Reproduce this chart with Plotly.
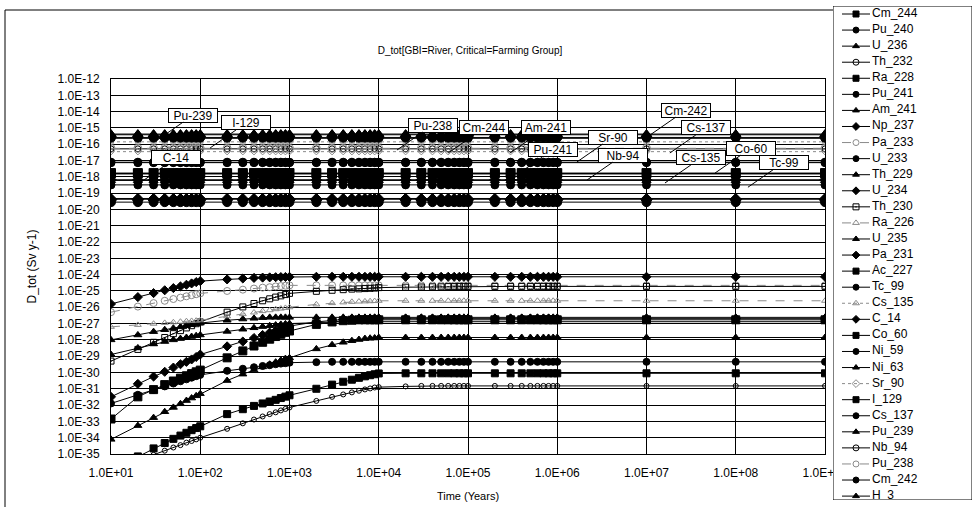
import math
import plotly.graph_objects as go

# ---------------- data ----------------
TIME = [
    1e1, 2e1, 3e1, 4e1, 5e1, 6e1, 7e1, 8e1, 9e1,
    1e2, 2e2, 3e2, 4e2, 5e2, 6e2, 7e2, 8e2, 9e2,
    1e3, 2e3, 3e3, 4e3, 5e3, 6e3, 7e3, 8e3, 9e3,
    1e4, 2e4, 3e4, 4e4, 5e4, 6e4, 7e4, 8e4, 9e4,
    1e5, 2e5, 3e5, 4e5, 5e5, 6e5, 7e5, 8e5, 9e5,
    1e6, 1e7, 1e8, 1e9,
]

CM_244 = [1.6e-18, 1.6e-18, 1.6e-18, 1.6e-18, 1.6e-18, 1.6e-18, 1.6e-18, 1.6e-18, 1.6e-18,
          1.6e-18, 1.6e-18, 1.6e-18, 1.6e-18, 1.6e-18, 1.6e-18, 1.6e-18, 1.6e-18, 1.6e-18,
          1.6e-18, 1.6e-18, 1.6e-18, 1.6e-18, 1.6e-18, 1.6e-18, 1.6e-18, 1.6e-18, 1.6e-18,
          1.6e-18, 1.6e-18, 1.6e-18, 1.6e-18, 1.6e-18, 1.6e-18, 1.6e-18, 1.6e-18, 1.6e-18,
          1.6e-18, 1.6e-18, 1.6e-18, 1.6e-18, 1.6e-18, 1.6e-18, 1.6e-18, 1.6e-18, 1.6e-18,
          1.6e-18, 1.6e-18, 1.6e-18, 1.6e-18]
PU_240 = [2.3e-16, 2.3e-16, 2.3e-16, 2.3e-16, 2.3e-16, 2.3e-16, 2.3e-16, 2.3e-16, 2.3e-16,
          2.3e-16, 2.3e-16, 2.3e-16, 2.3e-16, 2.3e-16, 2.3e-16, 2.3e-16, 2.3e-16, 2.3e-16,
          2.3e-16, 2.3e-16, 2.3e-16, 2.3e-16, 2.3e-16, 2.3e-16, 2.3e-16, 2.3e-16, 2.3e-16,
          2.3e-16, 2.3e-16, 2.3e-16, 2.3e-16, 2.3e-16, 2.3e-16, 2.3e-16, 2.3e-16, 2.3e-16,
          2.3e-16, 2.3e-16, 2.3e-16, 2.3e-16, 2.3e-16, 2.3e-16, 2.3e-16, 2.3e-16, 2.3e-16,
          2.3e-16, 2.3e-16, 2.3e-16, 2.3e-16]
U_236 = [1.0e-28, 2.0e-28, 3.2e-28, 4.2e-28, 5.2e-28, 6.3e-28, 7.4e-28, 8.5e-28, 9.5e-28,
         1.07e-27, 1.6e-27, 1.9e-27, 2.1e-27, 2.3e-27, 2.4e-27, 2.4e-27, 2.4e-27, 2.4e-27,
         2.4e-27, 2.4e-27, 2.4e-27, 2.4e-27, 2.4e-27, 2.4e-27, 2.4e-27, 2.4e-27, 2.4e-27,
         2.4e-27, 2.4e-27, 2.4e-27, 2.4e-27, 2.4e-27, 2.4e-27, 2.4e-27, 2.4e-27, 2.4e-27,
         2.4e-27, 2.4e-27, 2.4e-27, 2.4e-27, 2.4e-27, 2.4e-27, 2.4e-27, 2.4e-27, 2.4e-27,
         2.4e-27, 2.4e-27, 2.4e-27, 2.4e-27]
TH_232 = [1.0e-36, 4.0e-36, 8.9e-36, 1.6e-35, 2.5e-35, 3.5e-35, 5.0e-35, 6.3e-35, 7.9e-35,
          1.0e-34, 3.5e-34, 7.6e-34, 1.3e-33, 2.0e-33, 2.8e-33, 3.6e-33, 4.7e-33, 5.8e-33,
          7.1e-33, 1.8e-32, 3.2e-32, 4.5e-32, 6.0e-32, 7.6e-32, 9.1e-32, 1.05e-31, 1.2e-31,
          1.26e-31, 1.4e-31, 1.5e-31, 1.5e-31, 1.5e-31, 1.5e-31, 1.5e-31, 1.5e-31, 1.5e-31,
          1.5e-31, 1.5e-31, 1.5e-31, 1.5e-31, 1.5e-31, 1.5e-31, 1.5e-31, 1.5e-31, 1.5e-31,
          1.5e-31, 1.5e-31, 1.5e-31, 1.5e-31]
RA_228 = [1.0e-36, 7.1e-36, 2.2e-35, 4.7e-35, 8.5e-35, 1.35e-34, 2.0e-34, 2.9e-34, 3.9e-34,
          5.0e-34, 2.8e-33, 5.6e-33, 8.9e-33, 1.26e-32, 1.66e-32, 2.1e-32, 2.7e-32, 3.3e-32,
          4.0e-32, 1.0e-31, 1.8e-31, 2.7e-31, 3.6e-31, 4.7e-31, 5.8e-31, 6.8e-31, 7.8e-31,
          8.7e-31, 8.9e-31, 8.9e-31, 8.9e-31, 8.9e-31, 8.9e-31, 8.9e-31, 8.9e-31, 8.9e-31,
          8.9e-31, 8.9e-31, 8.9e-31, 8.9e-31, 8.9e-31, 8.9e-31, 8.9e-31, 8.9e-31, 8.9e-31,
          8.9e-31, 8.9e-31, 8.9e-31, 8.9e-31]
PU_241 = [7.9e-18, 7.9e-18, 7.9e-18, 7.9e-18, 7.9e-18, 7.9e-18, 7.9e-18, 7.9e-18, 7.9e-18,
          7.9e-18, 7.9e-18, 7.9e-18, 7.9e-18, 7.9e-18, 7.9e-18, 7.9e-18, 7.9e-18, 7.9e-18,
          7.9e-18, 7.9e-18, 7.9e-18, 7.9e-18, 7.9e-18, 7.9e-18, 7.9e-18, 7.9e-18, 7.9e-18,
          7.9e-18, 7.9e-18, 7.9e-18, 7.9e-18, 7.9e-18, 7.9e-18, 7.9e-18, 7.9e-18, 7.9e-18,
          7.9e-18, 7.9e-18, 7.9e-18, 7.9e-18, 7.9e-18, 7.9e-18, 7.9e-18, 7.9e-18, 7.9e-18,
          7.9e-18, 7.9e-18, 7.9e-18, 7.9e-18]
AM_241 = [4.7e-20, 4.7e-20, 4.7e-20, 4.7e-20, 4.7e-20, 4.7e-20, 4.7e-20, 4.7e-20, 4.7e-20,
          4.7e-20, 4.7e-20, 4.7e-20, 4.7e-20, 4.7e-20, 4.7e-20, 4.7e-20, 4.7e-20, 4.7e-20,
          4.7e-20, 4.7e-20, 4.7e-20, 4.7e-20, 4.7e-20, 4.7e-20, 4.7e-20, 4.7e-20, 4.7e-20,
          4.7e-20, 4.7e-20, 4.7e-20, 4.7e-20, 4.7e-20, 4.7e-20, 4.7e-20, 4.7e-20, 4.7e-20,
          4.7e-20, 4.7e-20, 4.7e-20, 4.7e-20, 4.7e-20, 4.7e-20, 4.7e-20, 4.7e-20, 4.7e-20,
          4.7e-20, 4.7e-20, 4.7e-20, 4.7e-20]
NP_237 = [4.2e-20, 4.2e-20, 4.2e-20, 4.2e-20, 4.2e-20, 4.2e-20, 4.2e-20, 4.2e-20, 4.2e-20,
          4.2e-20, 4.2e-20, 4.2e-20, 4.2e-20, 4.2e-20, 4.2e-20, 4.2e-20, 4.2e-20, 4.2e-20,
          4.2e-20, 4.2e-20, 4.2e-20, 4.2e-20, 4.2e-20, 4.2e-20, 4.2e-20, 4.2e-20, 4.2e-20,
          4.2e-20, 4.2e-20, 4.2e-20, 4.2e-20, 4.2e-20, 4.2e-20, 4.2e-20, 4.2e-20, 4.2e-20,
          4.2e-20, 4.2e-20, 4.2e-20, 4.2e-20, 4.2e-20, 4.2e-20, 4.2e-20, 4.2e-20, 4.2e-20,
          4.2e-20, 4.2e-20, 4.2e-20, 4.2e-20]
PA_233 = [5.0e-27, 1.1e-26, 1.8e-26, 2.5e-26, 3.2e-26, 3.9e-26, 4.7e-26, 5.5e-26, 6.3e-26,
          7.1e-26, 1.0e-25, 1.2e-25, 1.4e-25, 1.6e-25, 1.7e-25, 1.9e-25, 2.0e-25, 2.1e-25,
          2.2e-25, 2.2e-25, 2.2e-25, 2.2e-25, 2.2e-25, 2.2e-25, 2.2e-25, 2.2e-25, 2.2e-25,
          2.2e-25, 2.2e-25, 2.2e-25, 2.2e-25, 2.2e-25, 2.2e-25, 2.2e-25, 2.2e-25, 2.2e-25,
          2.2e-25, 2.2e-25, 2.2e-25, 2.2e-25, 2.2e-25, 2.2e-25, 2.2e-25, 2.2e-25, 2.2e-25,
          2.2e-25, 2.2e-25, 2.2e-25, 2.2e-25]
U_233 = [1.26e-32, 4.3e-32, 8.5e-32, 1.4e-31, 2.1e-31, 2.9e-31, 3.8e-31, 4.8e-31, 5.9e-31,
         7.1e-31, 1.26e-30, 1.7e-30, 2.1e-30, 2.5e-30, 2.8e-30, 3.2e-30, 3.5e-30, 3.7e-30,
         4.0e-30, 4.3e-30, 4.5e-30, 4.5e-30, 4.5e-30, 4.5e-30, 4.5e-30, 4.5e-30, 4.5e-30,
         4.5e-30, 4.5e-30, 4.5e-30, 4.5e-30, 4.5e-30, 4.5e-30, 4.5e-30, 4.5e-30, 4.5e-30,
         4.5e-30, 4.5e-30, 4.5e-30, 4.5e-30, 4.5e-30, 4.5e-30, 4.5e-30, 4.5e-30, 4.5e-30,
         4.5e-30, 4.5e-30, 4.5e-30, 4.5e-30]
TH_229 = [7.9e-35, 5.5e-34, 1.7e-33, 3.9e-33, 7.2e-33, 1.2e-32, 1.9e-32, 2.7e-32, 3.7e-32,
          5.0e-32, 3.2e-31, 7.9e-31, 1.4e-30, 2.2e-30, 3.2e-30, 4.3e-30, 5.6e-30, 7.1e-30,
          7.9e-30, 2.8e-29, 5.0e-29, 7.1e-29, 8.9e-29, 1.05e-28, 1.2e-28, 1.26e-28, 1.3e-28,
          1.4e-28, 1.4e-28, 1.4e-28, 1.4e-28, 1.4e-28, 1.4e-28, 1.4e-28, 1.4e-28, 1.4e-28,
          1.4e-28, 1.4e-28, 1.4e-28, 1.4e-28, 1.4e-28, 1.4e-28, 1.4e-28, 1.4e-28, 1.4e-28,
          1.4e-28, 1.4e-28, 1.4e-28, 1.4e-28]
U_234 = [3.2e-32, 2.0e-31, 5.6e-31, 1.1e-30, 2.0e-30, 3.2e-30, 4.5e-30, 6.3e-30, 8.9e-30,
         1.26e-29, 4.0e-29, 7.9e-29, 1.3e-28, 2.0e-28, 2.8e-28, 3.6e-28, 4.7e-28, 5.9e-28,
         7.1e-28, 1.26e-27, 1.6e-27, 1.8e-27, 1.9e-27, 2.0e-27, 2.0e-27, 2.0e-27, 2.0e-27,
         2.0e-27, 2.0e-27, 2.0e-27, 2.0e-27, 2.0e-27, 2.0e-27, 2.0e-27, 2.0e-27, 2.0e-27,
         2.0e-27, 2.0e-27, 2.0e-27, 2.0e-27, 2.0e-27, 2.0e-27, 2.0e-27, 2.0e-27, 2.0e-27,
         2.0e-27, 2.0e-27, 2.0e-27, 2.0e-27]
TH_230 = [5.0e-30, 2.6e-29, 7.1e-29, 1.4e-28, 2.4e-28, 3.7e-28, 5.4e-28, 7.4e-28, 9.8e-28,
          1.26e-27, 5.0e-27, 1.05e-26, 1.7e-26, 2.5e-26, 3.3e-26, 4.2e-26, 5.0e-26, 6.0e-26,
          7.1e-26, 9.5e-26, 1.1e-25, 1.2e-25, 1.3e-25, 1.35e-25, 1.4e-25, 1.45e-25, 1.5e-25,
          1.6e-25, 1.7e-25, 1.75e-25, 1.8e-25, 1.8e-25, 1.85e-25, 1.85e-25, 1.9e-25, 1.9e-25,
          1.9e-25, 1.9e-25, 1.9e-25, 1.9e-25, 1.9e-25, 1.9e-25, 1.9e-25, 1.9e-25, 1.9e-25,
          1.9e-25, 1.9e-25, 1.9e-25, 1.9e-25]
RA_226 = [6.3e-28, 8.3e-28, 9.8e-28, 1.1e-27, 1.2e-27, 1.3e-27, 1.4e-27, 1.45e-27, 1.5e-27,
          1.6e-27, 2.8e-27, 3.8e-27, 4.8e-27, 5.8e-27, 6.6e-27, 7.6e-27, 8.3e-27, 9.1e-27,
          1.0e-26, 1.5e-26, 1.8e-26, 2.0e-26, 2.15e-26, 2.25e-26, 2.3e-26, 2.35e-26, 2.4e-26,
          2.5e-26, 2.5e-26, 2.5e-26, 2.5e-26, 2.5e-26, 2.5e-26, 2.5e-26, 2.5e-26, 2.5e-26,
          2.5e-26, 2.5e-26, 2.5e-26, 2.5e-26, 2.5e-26, 2.5e-26, 2.5e-26, 2.5e-26, 2.5e-26,
          2.5e-26, 2.5e-26, 2.5e-26, 2.5e-26]
U_235 = [1.26e-29, 3.2e-29, 5.6e-29, 7.9e-29, 1.0e-28, 1.2e-28, 1.4e-28, 1.6e-28, 1.8e-28,
         2.0e-28, 3.3e-28, 4.5e-28, 5.5e-28, 6.5e-28, 7.4e-28, 8.1e-28, 8.9e-28, 9.5e-28,
         1.0e-27, 1.2e-27, 1.26e-27, 1.3e-27, 1.3e-27, 1.3e-27, 1.3e-27, 1.3e-27, 1.3e-27,
         1.3e-27, 1.3e-27, 1.3e-27, 1.3e-27, 1.3e-27, 1.3e-27, 1.3e-27, 1.3e-27, 1.3e-27,
         1.3e-27, 1.3e-27, 1.3e-27, 1.3e-27, 1.3e-27, 1.3e-27, 1.3e-27, 1.3e-27, 1.3e-27,
         1.3e-27, 1.3e-27, 1.3e-27, 1.3e-27]
PA_231 = [1.6e-26, 4.2e-26, 7.4e-26, 1.1e-25, 1.5e-25, 1.9e-25, 2.4e-25, 2.9e-25, 3.5e-25,
          4.0e-25, 5.1e-25, 5.8e-25, 6.3e-25, 6.6e-25, 6.8e-25, 7.0e-25, 7.1e-25, 7.2e-25,
          7.3e-25, 7.4e-25, 7.4e-25, 7.4e-25, 7.4e-25, 7.4e-25, 7.4e-25, 7.4e-25, 7.4e-25,
          7.4e-25, 7.4e-25, 7.4e-25, 7.4e-25, 7.4e-25, 7.4e-25, 7.4e-25, 7.4e-25, 7.4e-25,
          7.4e-25, 7.4e-25, 7.4e-25, 7.4e-25, 7.4e-25, 7.4e-25, 7.4e-25, 7.4e-25, 7.4e-25,
          7.4e-25, 7.4e-25, 7.4e-25, 7.4e-25]
AC_227 = [1.4e-33, 3.2e-32, 8.9e-32, 1.8e-31, 3.0e-31, 4.5e-31, 6.3e-31, 8.5e-31, 1.1e-30,
          1.4e-30, 7.9e-30, 2.1e-29, 4.2e-29, 7.1e-29, 1.1e-28, 1.6e-28, 2.2e-28, 2.9e-28,
          3.5e-28, 8.9e-28, 1.26e-27, 1.5e-27, 1.6e-27, 1.7e-27, 1.7e-27, 1.7e-27, 1.7e-27,
          1.7e-27, 1.7e-27, 1.7e-27, 1.7e-27, 1.7e-27, 1.7e-27, 1.7e-27, 1.7e-27, 1.7e-27,
          1.7e-27, 1.7e-27, 1.7e-27, 1.7e-27, 1.7e-27, 1.7e-27, 1.7e-27, 1.7e-27, 1.7e-27,
          1.7e-27, 1.7e-27, 1.7e-27, 1.7e-27]
TC_99 = [3.2e-19, 3.2e-19, 3.2e-19, 3.2e-19, 3.2e-19, 3.2e-19, 3.2e-19, 3.2e-19, 3.2e-19,
         3.2e-19, 3.2e-19, 3.2e-19, 3.2e-19, 3.2e-19, 3.2e-19, 3.2e-19, 3.2e-19, 3.2e-19,
         3.2e-19, 3.2e-19, 3.2e-19, 3.2e-19, 3.2e-19, 3.2e-19, 3.2e-19, 3.2e-19, 3.2e-19,
         3.2e-19, 3.2e-19, 3.2e-19, 3.2e-19, 3.2e-19, 3.2e-19, 3.2e-19, 3.2e-19, 3.2e-19,
         3.2e-19, 3.2e-19, 3.2e-19, 3.2e-19, 3.2e-19, 3.2e-19, 3.2e-19, 3.2e-19, 3.2e-19,
         3.2e-19, 3.2e-19, 3.2e-19, 3.2e-19]
CS_135 = [1.4e-16, 1.4e-16, 1.4e-16, 1.4e-16, 1.4e-16, 1.4e-16, 1.4e-16, 1.4e-16, 1.4e-16,
          1.4e-16, 1.4e-16, 1.4e-16, 1.4e-16, 1.4e-16, 1.4e-16, 1.4e-16, 1.4e-16, 1.4e-16,
          1.4e-16, 1.4e-16, 1.4e-16, 1.4e-16, 1.4e-16, 1.4e-16, 1.4e-16, 1.4e-16, 1.4e-16,
          1.4e-16, 1.4e-16, 1.4e-16, 1.4e-16, 1.4e-16, 1.4e-16, 1.4e-16, 1.4e-16, 1.4e-16,
          1.4e-16, 1.4e-16, 1.4e-16, 1.4e-16, 1.4e-16, 1.4e-16, 1.4e-16, 1.4e-16, 1.4e-16,
          1.4e-16, 1.4e-16, 1.4e-16, 1.4e-16]
C_14 = [6.6e-19, 6.6e-19, 6.6e-19, 6.6e-19, 6.6e-19, 6.6e-19, 6.6e-19, 6.6e-19, 6.6e-19,
        6.6e-19, 6.6e-19, 6.6e-19, 6.6e-19, 6.6e-19, 6.6e-19, 6.6e-19, 6.6e-19, 6.6e-19,
        6.6e-19, 6.6e-19, 6.6e-19, 6.6e-19, 6.6e-19, 6.6e-19, 6.6e-19, 6.6e-19, 6.6e-19,
        6.6e-19, 6.6e-19, 6.6e-19, 6.6e-19, 6.6e-19, 6.6e-19, 6.6e-19, 6.6e-19, 6.6e-19,
        6.6e-19, 6.6e-19, 6.6e-19, 6.6e-19, 6.6e-19, 6.6e-19, 6.6e-19, 6.6e-19, 6.6e-19,
        6.6e-19, 6.6e-19, 6.6e-19, 6.6e-19]
CO_60 = [1.7e-18, 1.7e-18, 1.7e-18, 1.7e-18, 1.7e-18, 1.7e-18, 1.7e-18, 1.7e-18, 1.7e-18,
         1.7e-18, 1.7e-18, 1.7e-18, 1.7e-18, 1.7e-18, 1.7e-18, 1.7e-18, 1.7e-18, 1.7e-18,
         1.7e-18, 1.7e-18, 1.7e-18, 1.7e-18, 1.7e-18, 1.7e-18, 1.7e-18, 1.7e-18, 1.7e-18,
         1.7e-18, 1.7e-18, 1.7e-18, 1.7e-18, 1.7e-18, 1.7e-18, 1.7e-18, 1.7e-18, 1.7e-18,
         1.7e-18, 1.7e-18, 1.7e-18, 1.7e-18, 1.7e-18, 1.7e-18, 1.7e-18, 1.7e-18, 1.7e-18,
         1.7e-18, 1.7e-18, 1.7e-18, 1.7e-18]
NI_59 = [2.8e-20, 2.8e-20, 2.8e-20, 2.8e-20, 2.8e-20, 2.8e-20, 2.8e-20, 2.8e-20, 2.8e-20,
         2.8e-20, 2.8e-20, 2.8e-20, 2.8e-20, 2.8e-20, 2.8e-20, 2.8e-20, 2.8e-20, 2.8e-20,
         2.8e-20, 2.8e-20, 2.8e-20, 2.8e-20, 2.8e-20, 2.8e-20, 2.8e-20, 2.8e-20, 2.8e-20,
         2.8e-20, 2.8e-20, 2.8e-20, 2.8e-20, 2.8e-20, 2.8e-20, 2.8e-20, 2.8e-20, 2.8e-20,
         2.8e-20, 2.8e-20, 2.8e-20, 2.8e-20, 2.8e-20, 2.8e-20, 2.8e-20, 2.8e-20, 2.8e-20,
         2.8e-20, 2.8e-20, 2.8e-20, 2.8e-20]
NI_63 = [6.0e-19, 6.0e-19, 6.0e-19, 6.0e-19, 6.0e-19, 6.0e-19, 6.0e-19, 6.0e-19, 6.0e-19,
         6.0e-19, 6.0e-19, 6.0e-19, 6.0e-19, 6.0e-19, 6.0e-19, 6.0e-19, 6.0e-19, 6.0e-19,
         6.0e-19, 6.0e-19, 6.0e-19, 6.0e-19, 6.0e-19, 6.0e-19, 6.0e-19, 6.0e-19, 6.0e-19,
         6.0e-19, 6.0e-19, 6.0e-19, 6.0e-19, 6.0e-19, 6.0e-19, 6.0e-19, 6.0e-19, 6.0e-19,
         6.0e-19, 6.0e-19, 6.0e-19, 6.0e-19, 6.0e-19, 6.0e-19, 6.0e-19, 6.0e-19, 6.0e-19,
         6.0e-19, 6.0e-19, 6.0e-19, 6.0e-19]
SR_90 = [3.5e-17, 3.5e-17, 3.5e-17, 3.5e-17, 3.5e-17, 3.5e-17, 3.5e-17, 3.5e-17, 3.5e-17,
         3.5e-17, 3.5e-17, 3.5e-17, 3.5e-17, 3.5e-17, 3.5e-17, 3.5e-17, 3.5e-17, 3.5e-17,
         3.5e-17, 3.5e-17, 3.5e-17, 3.5e-17, 3.5e-17, 3.5e-17, 3.5e-17, 3.5e-17, 3.5e-17,
         3.5e-17, 3.5e-17, 3.5e-17, 3.5e-17, 3.5e-17, 3.5e-17, 3.5e-17, 3.5e-17, 3.5e-17,
         3.5e-17, 3.5e-17, 3.5e-17, 3.5e-17, 3.5e-17, 3.5e-17, 3.5e-17, 3.5e-17, 3.5e-17,
         3.5e-17, 3.5e-17, 3.5e-17, 3.5e-17]
I_129 = [1.5e-18, 1.5e-18, 1.5e-18, 1.5e-18, 1.5e-18, 1.5e-18, 1.5e-18, 1.5e-18, 1.5e-18,
         1.5e-18, 1.5e-18, 1.5e-18, 1.5e-18, 1.5e-18, 1.5e-18, 1.5e-18, 1.5e-18, 1.5e-18,
         1.5e-18, 1.5e-18, 1.5e-18, 1.5e-18, 1.5e-18, 1.5e-18, 1.5e-18, 1.5e-18, 1.5e-18,
         1.5e-18, 1.5e-18, 1.5e-18, 1.5e-18, 1.5e-18, 1.5e-18, 1.5e-18, 1.5e-18, 1.5e-18,
         1.5e-18, 1.5e-18, 1.5e-18, 1.5e-18, 1.5e-18, 1.5e-18, 1.5e-18, 1.5e-18, 1.5e-18,
         1.5e-18, 1.5e-18, 1.5e-18, 1.5e-18]
CS_137 = [7.4e-18, 7.4e-18, 7.4e-18, 7.4e-18, 7.4e-18, 7.4e-18, 7.4e-18, 7.4e-18, 7.4e-18,
          7.4e-18, 7.4e-18, 7.4e-18, 7.4e-18, 7.4e-18, 7.4e-18, 7.4e-18, 7.4e-18, 7.4e-18,
          7.4e-18, 7.4e-18, 7.4e-18, 7.4e-18, 7.4e-18, 7.4e-18, 7.4e-18, 7.4e-18, 7.4e-18,
          7.4e-18, 7.4e-18, 7.4e-18, 7.4e-18, 7.4e-18, 7.4e-18, 7.4e-18, 7.4e-18, 7.4e-18,
          7.4e-18, 7.4e-18, 7.4e-18, 7.4e-18, 7.4e-18, 7.4e-18, 7.4e-18, 7.4e-18, 7.4e-18,
          7.4e-18, 7.4e-18, 7.4e-18, 7.4e-18]
PU_239 = [3.8e-16, 3.8e-16, 3.8e-16, 3.8e-16, 3.8e-16, 3.8e-16, 3.8e-16, 3.8e-16, 3.8e-16,
          3.8e-16, 3.8e-16, 3.8e-16, 3.8e-16, 3.8e-16, 3.8e-16, 3.8e-16, 3.8e-16, 3.8e-16,
          3.8e-16, 3.8e-16, 3.8e-16, 3.8e-16, 3.8e-16, 3.8e-16, 3.8e-16, 3.8e-16, 3.8e-16,
          3.8e-16, 3.8e-16, 3.8e-16, 3.8e-16, 3.8e-16, 3.8e-16, 3.8e-16, 3.8e-16, 3.8e-16,
          3.8e-16, 3.8e-16, 3.8e-16, 3.8e-16, 3.8e-16, 3.8e-16, 3.8e-16, 3.8e-16, 3.8e-16,
          3.8e-16, 3.8e-16, 3.8e-16, 3.8e-16]
NB_94 = [5.2e-17, 5.2e-17, 5.2e-17, 5.2e-17, 5.2e-17, 5.2e-17, 5.2e-17, 5.2e-17, 5.2e-17,
         5.2e-17, 5.2e-17, 5.2e-17, 5.2e-17, 5.2e-17, 5.2e-17, 5.2e-17, 5.2e-17, 5.2e-17,
         5.2e-17, 5.2e-17, 5.2e-17, 5.2e-17, 5.2e-17, 5.2e-17, 5.2e-17, 5.2e-17, 5.2e-17,
         5.2e-17, 5.2e-17, 5.2e-17, 5.2e-17, 5.2e-17, 5.2e-17, 5.2e-17, 5.2e-17, 5.2e-17,
         5.2e-17, 5.2e-17, 5.2e-17, 5.2e-17, 5.2e-17, 5.2e-17, 5.2e-17, 5.2e-17, 5.2e-17,
         5.2e-17, 5.2e-17, 5.2e-17, 5.2e-17]
PU_238 = [5.6e-17, 5.6e-17, 5.6e-17, 5.6e-17, 5.6e-17, 5.6e-17, 5.6e-17, 5.6e-17, 5.6e-17,
          5.6e-17, 5.6e-17, 5.6e-17, 5.6e-17, 5.6e-17, 5.6e-17, 5.6e-17, 5.6e-17, 5.6e-17,
          5.6e-17, 5.6e-17, 5.6e-17, 5.6e-17, 5.6e-17, 5.6e-17, 5.6e-17, 5.6e-17, 5.6e-17,
          5.6e-17, 5.6e-17, 5.6e-17, 5.6e-17, 5.6e-17, 5.6e-17, 5.6e-17, 5.6e-17, 5.6e-17,
          5.6e-17, 5.6e-17, 5.6e-17, 5.6e-17, 5.6e-17, 5.6e-17, 5.6e-17, 5.6e-17, 5.6e-17,
          5.6e-17, 5.6e-17, 5.6e-17, 5.6e-17]
CM_242 = [2.6e-16, 2.6e-16, 2.6e-16, 2.6e-16, 2.6e-16, 2.6e-16, 2.6e-16, 2.6e-16, 2.6e-16,
          2.6e-16, 2.6e-16, 2.6e-16, 2.6e-16, 2.6e-16, 2.6e-16, 2.6e-16, 2.6e-16, 2.6e-16,
          2.6e-16, 2.6e-16, 2.6e-16, 2.6e-16, 2.6e-16, 2.6e-16, 2.6e-16, 2.6e-16, 2.6e-16,
          2.6e-16, 2.6e-16, 2.6e-16, 2.6e-16, 2.6e-16, 2.6e-16, 2.6e-16, 2.6e-16, 2.6e-16,
          2.6e-16, 2.6e-16, 2.6e-16, 2.6e-16, 2.6e-16, 2.6e-16, 2.6e-16, 2.6e-16, 2.6e-16,
          2.6e-16, 2.6e-16, 2.6e-16, 2.6e-16]
H_3 = [4.2e-16, 4.2e-16, 4.2e-16, 4.2e-16, 4.2e-16, 4.2e-16, 4.2e-16, 4.2e-16, 4.2e-16,
       4.2e-16, 4.2e-16, 4.2e-16, 4.2e-16, 4.2e-16, 4.2e-16, 4.2e-16, 4.2e-16, 4.2e-16,
       4.2e-16, 4.2e-16, 4.2e-16, 4.2e-16, 4.2e-16, 4.2e-16, 4.2e-16, 4.2e-16, 4.2e-16,
       4.2e-16, 4.2e-16, 4.2e-16, 4.2e-16, 4.2e-16, 4.2e-16, 4.2e-16, 4.2e-16, 4.2e-16,
       4.2e-16, 4.2e-16, 4.2e-16, 4.2e-16, 4.2e-16, 4.2e-16, 4.2e-16, 4.2e-16, 4.2e-16,
       4.2e-16, 4.2e-16, 4.2e-16, 4.2e-16]

SERIES_NAMES = ["Cm_244", "Pu_240", "U_236", "Th_232", "Ra_228", "Pu_241", "Am_241",
                "Np_237", "Pa_233", "U_233", "Th_229", "U_234", "Th_230", "Ra_226",
                "U_235", "Pa_231", "Ac_227", "Tc_99", "Cs_135", "C_14", "Co_60",
                "Ni_59", "Ni_63", "Sr_90", "I_129", "Cs_137", "Pu_239", "Nb_94",
                "Pu_238", "Cm_242", "H_3"]
SERIES_VALUES = [CM_244, PU_240, U_236, TH_232, RA_228, PU_241, AM_241, NP_237, PA_233,
                 U_233, TH_229, U_234, TH_230, RA_226, U_235, PA_231, AC_227, TC_99,
                 CS_135, C_14, CO_60, NI_59, NI_63, SR_90, I_129, CS_137, PU_239, NB_94,
                 PU_238, CM_242, H_3]

X_TICK_VALUES = [1e1, 1e2, 1e3, 1e4, 1e5, 1e6, 1e7, 1e8, 1e9]
X_TICK_LABELS = ["1.0E+01", "1.0E+02", "1.0E+03", "1.0E+04", "1.0E+05",
                 "1.0E+06", "1.0E+07", "1.0E+08", "1.0E+09"]
Y_TICK_VALUES = [1e-12, 1e-13, 1e-14, 1e-15, 1e-16, 1e-17, 1e-18, 1e-19, 1e-20, 1e-21,
                 1e-22, 1e-23, 1e-24, 1e-25, 1e-26, 1e-27, 1e-28, 1e-29, 1e-30, 1e-31,
                 1e-32, 1e-33, 1e-34, 1e-35]
Y_TICK_LABELS = ["1.0E-12", "1.0E-13", "1.0E-14", "1.0E-15", "1.0E-16", "1.0E-17",
                 "1.0E-18", "1.0E-19", "1.0E-20", "1.0E-21", "1.0E-22", "1.0E-23",
                 "1.0E-24", "1.0E-25", "1.0E-26", "1.0E-27", "1.0E-28", "1.0E-29",
                 "1.0E-30", "1.0E-31", "1.0E-32", "1.0E-33", "1.0E-34", "1.0E-35"]

CALLOUT_LABELS = ["Pu-239", "I-129", "C-14", "Pu-238", "Cm-244", "Am-241", "Pu-241",
                  "Sr-90", "Nb-94", "Cm-242", "Cs-137", "Cs-135", "Co-60", "Tc-99"]
CALLOUT_TIME = [33, 129, 21, 1.6e4, 6.0e4, 2.96e5, 3.5e5, 1.66e6, 2.15e6,
                1.09e7, 1.83e7, 1.61e7, 5.86e7, 1.37e8]
CALLOUT_DOSE = [1.8e-16, 5.9e-17, 4.2e-19, 4.4e-17, 2.9e-17, 2.9e-17, 1.3e-18,
                8.1e-18, 6.3e-19, 3.6e-16, 2.9e-17, 4.2e-19, 1.7e-18, 2.3e-19]

# ---------------- styles ----------------
BLACK = "#000000"
GREY = "#8a8a8a"
STYLE = {
    "Cm_244": ("square", BLACK, "solid", 8), "Pu_240": ("circle", BLACK, "solid", 8),
    "U_236": ("triangle-up", BLACK, "solid", 7), "Th_232": ("circle-open", BLACK, "solid", 5),
    "Ra_228": ("square", BLACK, "solid", 7), "Pu_241": ("circle", BLACK, "solid", 8),
    "Am_241": ("triangle-up", BLACK, "solid", 9), "Np_237": ("diamond", BLACK, "solid", 9),
    "Pa_233": ("circle-open", GREY, "dash", 7), "U_233": ("circle", BLACK, "solid", 7),
    "Th_229": ("triangle-up", BLACK, "solid", 7), "U_234": ("diamond", BLACK, "solid", 7),
    "Th_230": ("square-open-dot", BLACK, "solid", 6), "Ra_226": ("triangle-up-open", GREY, "dash", 6),
    "U_235": ("triangle-up", BLACK, "solid", 7), "Pa_231": ("diamond", BLACK, "solid", 7),
    "Ac_227": ("square", BLACK, "solid", 8), "Tc_99": ("circle", BLACK, "solid", 8),
    "Cs_135": ("triangle-up-open", GREY, "dot", 5), "C_14": ("diamond", BLACK, "solid", 8),
    "Co_60": ("square", BLACK, "solid", 9), "Ni_59": ("circle", BLACK, "solid", 9),
    "Ni_63": ("triangle-up", BLACK, "solid", 8), "Sr_90": ("diamond-open", GREY, "dot", 5),
    "I_129": ("square", BLACK, "solid", 8), "Cs_137": ("circle", BLACK, "solid", 8),
    "Pu_239": ("triangle-up", BLACK, "solid", 9), "Nb_94": ("circle-open", BLACK, "solid", 6),
    "Pu_238": ("circle-open", GREY, "dash", 8), "Cm_242": ("circle", BLACK, "solid", 9),
    "H_3": ("triangle-up", BLACK, "solid", 9),
}
LEGEND_MARKER_SIZE = 6

FONT = "Liberation Sans, Arial, sans-serif"
W, H = 976, 507

fig = go.Figure()

# main plot traces
for name, vals in zip(SERIES_NAMES, SERIES_VALUES):
    sym, col, dash, size = STYLE[name]
    fig.add_trace(go.Scatter(
        x=TIME, y=vals, mode="lines+markers", name=name, showlegend=False,
        line=dict(color=col, width=1, dash=dash),
        marker=dict(symbol=sym, size=size, color=col, line=dict(color=col, width=1)),
        xaxis="x", yaxis="y",
    ))

# custom legend drawn in its own small axis pair (pixel-like units)
LEG_W, LEG_H = 139, 494
fig.add_trace(go.Scatter(
    x=[0, LEG_W, LEG_W, 0, 0], y=[0, 0, LEG_H, LEG_H, 0], mode="lines",
    fill="toself", fillcolor="white", line=dict(color=BLACK, width=1),
    showlegend=False, hoverinfo="skip", xaxis="x2", yaxis="y2", cliponaxis=False,
))
row_y = [8 + i * 16.07 for i in range(len(SERIES_NAMES))]
for name, ry in zip(SERIES_NAMES, row_y):
    sym, col, dash, size = STYLE[name]
    fig.add_trace(go.Scatter(
        x=[9, 23, 37], y=[ry, ry, ry], mode="lines+markers", showlegend=False,
        line=dict(color=col, width=1, dash=dash),
        marker=dict(symbol=sym, size=LEGEND_MARKER_SIZE, color=col, opacity=[0, 1, 0],
                    line=dict(color=col, width=1)),
        hoverinfo="skip", xaxis="x2", yaxis="y2",
    ))
fig.add_trace(go.Scatter(
    x=[39] * len(SERIES_NAMES), y=row_y, mode="text", text=SERIES_NAMES,
    textposition="middle right", textfont=dict(family=FONT, size=12, color=BLACK),
    showlegend=False, hoverinfo="skip", xaxis="x2", yaxis="y2",
))

# callouts
annotations = []
for lab, t, d in zip(CALLOUT_LABELS, CALLOUT_TIME, CALLOUT_DOSE):
    annotations.append(dict(
        x=math.log10(t), y=math.log10(d), xref="x", yref="y", text=lab,
        showarrow=True, arrowhead=0, arrowwidth=1, arrowcolor=BLACK,
        ax=36, ay=-25, font=dict(family=FONT, size=12, color=BLACK),
        bgcolor="white", bordercolor=BLACK, borderwidth=1, borderpad=0,
        width=48, height=13,
    ))

px = lambda v: v / W
py = lambda v: 1 - v / H

fig.update_layout(
    template="none",
    width=W, height=H, margin=dict(l=0, r=0, t=0, b=0, pad=0), autosize=False,
    paper_bgcolor="white", plot_bgcolor="white",
    font=dict(family=FONT, size=12, color=BLACK),
    title=dict(text="D_tot[GBI=River, Critical=Farming Group]", x=px(470), y=py(50),
               xanchor="center", yanchor="middle", font=dict(family=FONT, size=10)),
    xaxis=dict(type="log", range=[1, 9], domain=[px(111), px(825)], automargin=False,
               tickvals=X_TICK_VALUES, ticktext=X_TICK_LABELS, ticks="",
               showgrid=True, gridcolor=BLACK, gridwidth=1,
               showline=True, linecolor=BLACK, linewidth=1, mirror=True,
               zeroline=False, ticklabelstandoff=8,
               tickfont=dict(family=FONT, size=12),
               title=dict(text="Time (Years)", standoff=12, font=dict(family=FONT, size=11))),
    yaxis=dict(type="log", range=[-35, -12], domain=[py(454), py(79)], automargin=False,
               tickvals=Y_TICK_VALUES, ticktext=Y_TICK_LABELS, ticks="",
               showgrid=True, gridcolor=BLACK, gridwidth=1,
               showline=True, linecolor=BLACK, linewidth=1, mirror=True,
               zeroline=False, ticklabelstandoff=8,
               tickfont=dict(family=FONT, size=12),
               title=dict(text="D_tot (Sv y-1)", standoff=18, font=dict(family=FONT, size=12))),
    xaxis2=dict(range=[0, LEG_W], domain=[px(833), px(972)], visible=False, fixedrange=True,
                anchor="y2", automargin=False),
    yaxis2=dict(range=[LEG_H, 0], domain=[py(500), py(6)], visible=False, fixedrange=True,
                anchor="x2", automargin=False),
    annotations=annotations,
    shapes=[
        dict(type="line", xref="paper", yref="paper", x0=px(5), x1=px(833), y0=py(10), y1=py(10),
             line=dict(color=BLACK, width=1)),
        dict(type="line", xref="paper", yref="paper", x0=px(5), x1=px(5), y0=py(10), y1=0,
             line=dict(color=BLACK, width=1)),
    ],
)

fig.write_html("out.html")
